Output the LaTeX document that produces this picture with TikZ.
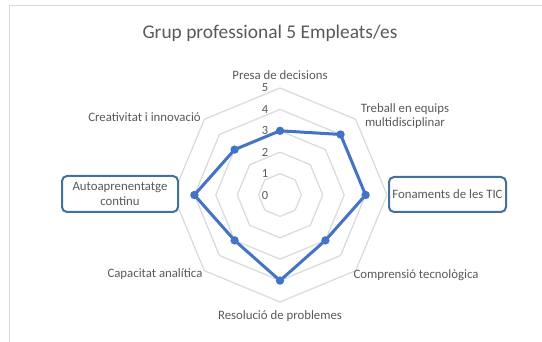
\documentclass[tikz,border=0pt]{standalone}
\usepackage{fontspec}
\setmainfont{Carlito}
\definecolor{txt}{HTML}{595959}
\definecolor{gridc}{HTML}{D9D9D9}
\definecolor{serc}{HTML}{4472C4}
\definecolor{boxc}{HTML}{41719C}
\begin{document}
\begin{tikzpicture}[x=1pt,y=1pt,
  lab/.style={text=txt,font=\fontsize{12.8}{14.5}\selectfont,align=center,inner sep=0pt},
  vlab/.style={text=txt,font=\fontsize{12.5}{13}\selectfont,inner sep=0pt},
  gridl/.style={draw=gridc,line width=1.2pt},
  serl/.style={draw=serc,line width=3pt,line join=round},
  callout/.style={draw=boxc,line width=2pt,rounded corners=5pt,fill=white,
    text=txt,font=\fontsize{12.8}{14.5}\selectfont,align=center,inner sep=0pt}]
\useasboundingbox (0,0) rectangle (542,342);
\draw[draw=gridc,line width=1.5pt] (9.5,-20) rectangle (570,336.5);
\node[text=txt,font=\fontsize{19.4}{22}\selectfont,inner sep=0pt] (title) at (270,309) {Grup professional 5 Empleats/es};
\begin{scope}[shift={(280,147)}]
  \coordinate (c) at (0,0);
  \foreach \k in {1,...,5}{
    \draw[gridl] (90:\k*21.4) \foreach \a in {45,0,-45,-90,-135,-180,-225}{ -- (\a:\k*21.4) } -- cycle;
  }
  \foreach \k in {0,...,5}{
    \node[vlab] (v\k) at (-15,\k*21.4) {\k};
  }
  \foreach \v [count=\i] in {3,4,4,3,4,3,4,3}{
    \coordinate (p\i) at ({90-45*(\i-1)}:\v*21.4);
  }
  \draw[serl] (p1) -- (p2) -- (p3) -- (p4) -- (p5) -- (p6) -- (p7) -- (p8) -- cycle;
  \foreach \i in {1,...,8}{ \fill[serc] (p\i) circle (4.2); }
\end{scope}
\node[lab] (l1) at (280,267) {Presa de decisions};
\node[lab] (l2) at (405,226) {Treball en equips\\multidisciplinar};
\node[callout,minimum width=117pt,minimum height=35pt] (l3) at (447.5,147.5) {Fonaments de les TIC};
\node[lab] (l4) at (416,67) {Comprensió tecnològica};
\node[lab] (l5) at (280,26) {Resolució de problemes};
\node[lab] (l6) at (155,68) {Capacitat analítica};
\node[callout,minimum width=116pt,minimum height=36pt] (l7) at (120,148) {Autoaprenentatge\\continu};
\node[lab] (l8) at (144.5,225) {Creativitat i innovació};
\end{tikzpicture}
\end{document}
